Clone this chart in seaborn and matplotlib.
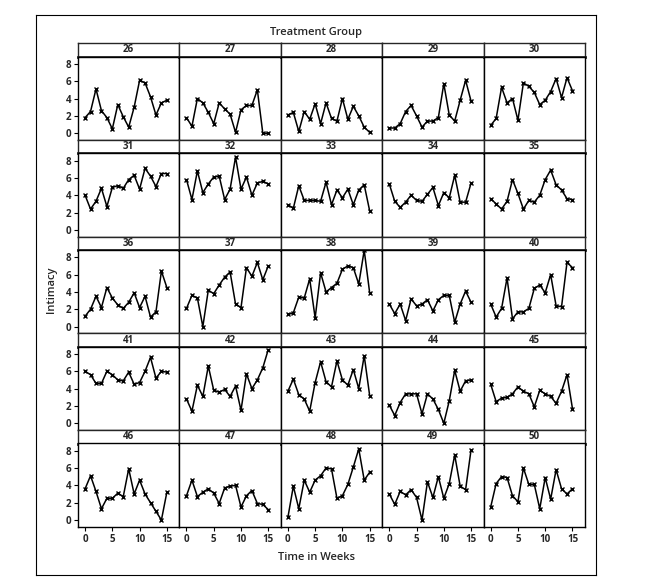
import pandas as pd
import matplotlib
matplotlib.use("Agg")
import matplotlib.pyplot as plt
import seaborn as sns

sns.set_style("white")
plt.rcParams['font.family'] = ['Open Sans', 'DejaVu Sans']

# Semanas e valores (um vetor por sujeito)
weeks = list(range(16))
subjects = list(range(26, 51))

s26 = [1.8, 2.5, 5.1, 2.6, 1.8, 0.5, 3.3, 1.9, 0.7, 3.0, 6.1, 5.8, 4.2, 2.1, 3.5, 3.8]
s27 = [1.8, 0.8, 4.0, 3.5, 2.4, 1.1, 3.5, 2.8, 2.2, 0.1, 2.7, 3.2, 3.2, 5.0, 0.0, 0.0]
s28 = [2.1, 2.4, 0.2, 2.5, 1.6, 3.4, 1.1, 3.5, 1.7, 1.4, 4.0, 1.6, 3.1, 2.0, 0.7, 0.1]
s29 = [0.6, 0.6, 1.1, 2.5, 3.2, 2.0, 0.7, 1.4, 1.4, 1.8, 5.7, 2.1, 1.4, 3.8, 6.1, 3.7]
s30 = [0.9, 1.7, 5.3, 3.5, 4.0, 1.5, 5.8, 5.4, 4.7, 3.3, 3.8, 4.8, 6.3, 4.1, 6.4, 4.9]
s31 = [4.0, 2.4, 3.3, 4.8, 2.7, 4.9, 5.1, 4.8, 5.8, 6.3, 4.7, 7.1, 6.2, 5.0, 6.5, 6.5]
s32 = [5.8, 3.5, 6.8, 4.3, 5.3, 6.1, 6.2, 3.5, 4.7, 8.4, 4.7, 6.1, 4.0, 5.4, 5.6, 5.3]
s33 = [2.9, 2.5, 5.1, 3.4, 3.4, 3.4, 3.3, 5.5, 2.9, 4.6, 3.7, 4.7, 2.9, 4.6, 5.2, 2.2]
s34 = [5.3, 3.3, 2.6, 3.2, 4.0, 3.4, 3.3, 4.1, 4.9, 2.8, 4.3, 3.7, 6.3, 3.2, 3.2, 5.4]
s35 = [3.6, 3.0, 2.4, 3.3, 5.8, 4.2, 2.4, 3.4, 3.2, 4.0, 5.8, 6.9, 5.2, 4.6, 3.6, 3.5]
s36 = [1.2, 2.0, 3.5, 2.2, 4.5, 3.3, 2.5, 2.1, 2.8, 3.9, 2.2, 3.5, 1.1, 1.7, 6.4, 4.5]
s37 = [2.1, 3.6, 3.3, 0.0, 4.2, 3.8, 4.8, 5.7, 6.3, 2.6, 2.2, 6.8, 5.8, 7.4, 5.4, 7.0]
s38 = [1.4, 1.6, 3.4, 3.3, 5.5, 1.0, 6.2, 4.0, 4.5, 5.0, 6.6, 7.0, 6.8, 4.9, 8.8, 3.9]
s39 = [2.6, 1.5, 2.6, 0.7, 3.2, 2.4, 2.6, 3.1, 1.8, 3.1, 3.6, 3.6, 0.5, 2.6, 4.1, 2.8]
s40 = [2.6, 1.1, 2.1, 5.6, 0.9, 1.7, 1.7, 2.1, 4.4, 4.8, 3.9, 6.0, 2.4, 2.3, 7.4, 6.8]
s41 = [6.0, 5.6, 4.6, 4.6, 6.0, 5.6, 5.0, 4.9, 5.9, 4.5, 4.7, 6.0, 7.6, 5.2, 6.0, 5.9]
s42 = [2.8, 1.4, 4.4, 3.1, 6.6, 3.8, 3.6, 3.9, 3.1, 4.3, 1.5, 5.7, 4.0, 5.0, 6.4, 8.5]
s43 = [3.7, 5.1, 3.3, 2.8, 1.4, 4.7, 7.1, 4.8, 4.2, 7.2, 5.0, 4.4, 6.2, 4.0, 7.8, 3.2]
s44 = [2.1, 0.9, 2.4, 3.4, 3.4, 3.4, 1.1, 3.4, 2.8, 1.6, 0.0, 2.6, 6.1, 3.7, 4.9, 5.0]
s45 = [4.5, 2.5, 2.9, 3.0, 3.4, 4.2, 3.7, 3.4, 1.9, 3.8, 3.4, 3.1, 2.3, 3.7, 5.6, 1.7]
s46 = [3.6, 5.1, 3.3, 1.3, 2.5, 2.5, 3.1, 2.7, 5.9, 3.0, 4.6, 3.0, 2.0, 1.0, 0.0, 3.2]
s47 = [2.8, 4.6, 2.7, 3.2, 3.6, 3.1, 1.9, 3.7, 3.9, 4.0, 1.5, 2.8, 3.4, 1.9, 1.8, 1.2]
s48 = [0.3, 3.9, 1.3, 4.6, 3.2, 4.6, 5.1, 6.0, 5.9, 2.5, 2.8, 4.1, 6.1, 8.2, 4.6, 5.5]
s49 = [3.0, 1.8, 3.3, 2.9, 3.5, 2.6, 0.0, 4.4, 2.6, 5.0, 2.5, 4.2, 7.5, 3.9, 3.5, 8.1]
s50 = [1.5, 4.2, 5.0, 4.9, 2.8, 2.1, 6.0, 4.1, 4.1, 1.3, 4.9, 2.4, 5.8, 3.6, 3.0, 3.6]

series = [s26, s27, s28, s29, s30, s31, s32, s33, s34, s35, s36, s37, s38,
          s39, s40, s41, s42, s43, s44, s45, s46, s47, s48, s49, s50]

df = pd.concat([pd.DataFrame({"Subject": s, "Week": weeks, "Intimacy": v})
                for s, v in zip(subjects, series)], ignore_index=True)

W, H = 657, 583
fig = plt.figure(figsize=(W / 100, H / 100), dpi=100)

# moldura externa
frame = fig.add_axes([36 / W, 1 - 575 / H, (596 - 36) / W, (575 - 15) / H])
frame.set_xticks([]); frame.set_yticks([])
frame.patch.set_alpha(0)
for sp in frame.spines.values():
    sp.set_linewidth(0.8)
    sp.set_color("black")

fig.text(316 / W, 1 - 32 / H, "Treatment Group", ha="center", va="center",
         fontsize=8, fontweight="semibold")

left0, colw = 78.0, 101.4
top0, rowp, hdr, plh = 43.3, 96.7, 13.4, 83.3

for i, subj in enumerate(subjects):
    r, c = divmod(i, 5)
    x0 = left0 + c * colw
    ytop = top0 + r * rowp
    # cabeçalho
    hax = fig.add_axes([x0 / W, 1 - (ytop + hdr) / H, colw / W, hdr / H])
    hax.set_xticks([]); hax.set_yticks([])
    for sp in hax.spines.values():
        sp.set_linewidth(1.0)
    hax.spines["bottom"].set_linewidth(2.0)
    hax.text(0.5, 0.5, str(subj), ha="center", va="center", fontsize=7,
             fontweight="bold", transform=hax.transAxes)
    # painel
    ax = fig.add_axes([x0 / W, 1 - (ytop + hdr + plh) / H, colw / W, plh / H])
    sns.lineplot(data=df[df["Subject"] == subj], x="Week", y="Intimacy", ax=ax,
                 color="black", linewidth=1.1, marker="x", markersize=3.5,
                 markeredgewidth=1.0, markeredgecolor="black")
    ax.set_xlim(-1.3, 17.3)
    ax.set_ylim(-0.78, 8.82)
    ax.set_xlabel(""); ax.set_ylabel("")
    for sp in ax.spines.values():
        sp.set_linewidth(1.0)
        sp.set_color("black")
    ax.set_xticks([0, 5, 10, 15])
    ax.set_yticks([0, 2, 4, 6, 8])
    ax.tick_params(length=3, width=0.8, labelsize=7, pad=2, color="black")
    if c == 0:
        ax.tick_params(axis="y", left=True)
        for t in ax.get_yticklabels():
            t.set_fontweight("bold")
    else:
        ax.set_yticklabels([])
        ax.tick_params(axis="y", left=False)
    if r == 4:
        ax.tick_params(axis="x", bottom=True)
        for t in ax.get_xticklabels():
            t.set_fontweight("bold")
    else:
        ax.set_xticklabels([])
        ax.tick_params(axis="x", bottom=False)

fig.text(316 / W, 1 - 557 / H, "Time in Weeks", ha="center", va="center",
         fontsize=8, fontweight="semibold")
fig.text(51 / W, 1 - 290 / H, "Intimacy", ha="center", va="center",
         rotation=90, fontsize=8, fontweight="semibold")

plt.savefig("out.png", dpi=100)
plt.close()
